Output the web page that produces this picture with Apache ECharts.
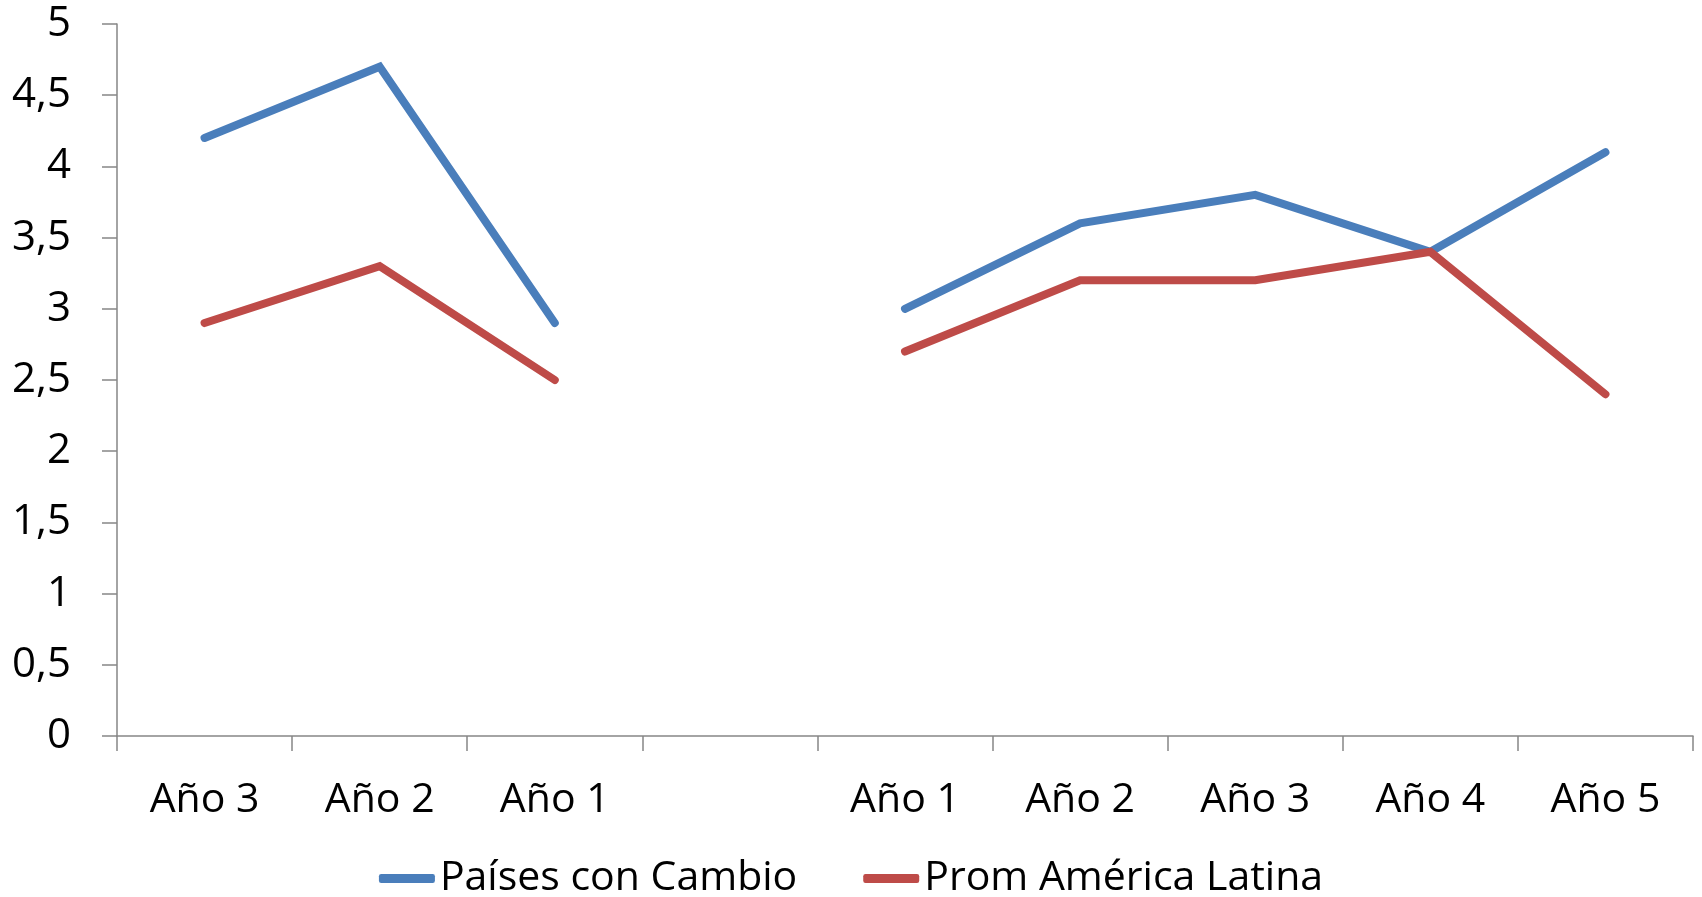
<!DOCTYPE html>
<html>
<head>
<meta charset="utf-8">
<script src="https://cdn.jsdelivr.net/npm/echarts@6/dist/echarts.min.js"></script>
<style>
  html, body { margin: 0; padding: 0; background: #fff; }
  #grafico { width: 1702px; height: 897px; }
</style>
</head>
<body>
<div id="grafico"></div>
<script>
// datos
const categorias = ['Año 3', 'Año 2', 'Año 1', '', 'Año 1', 'Año 2', 'Año 3', 'Año 4', 'Año 5'];
const paisesCambio = [4.2, 4.7, 2.9, null, 3.0, 3.6, 3.8, 3.4, 4.1];
const promAmerica = [2.9, 3.3, 2.5, null, 2.7, 3.2, 3.2, 3.4, 2.4];

const fuente = '"Open Sans", "Noto Sans", sans-serif';
const gris = '#868686';

let myChart = echarts.init(document.getElementById('grafico'));
const option = {
  animation: false,
  grid: { left: 117, right: 9, top: 24, bottom: 161 },
  legend: {
    top: 853,
    left: 'center',
    itemWidth: 56,
    itemHeight: 9,
    itemGap: 66,
    icon: 'roundRect',
    textStyle: { fontFamily: fuente, fontSize: 41, color: '#000' },
    data: ['Países con Cambio', 'Prom América Latina']
  },
  xAxis: {
    type: 'category',
    data: categorias,
    boundaryGap: true,
    axisLine: { lineStyle: { color: gris, width: 1.5 } },
    axisTick: { show: true, length: 15, lineStyle: { color: gris, width: 1.5 } },
    axisLabel: { fontFamily: fuente, fontSize: 41, color: '#000', margin: 44, interval: 0 }
  },
  yAxis: {
    type: 'value',
    min: 0,
    max: 5,
    interval: 0.5,
    splitLine: { show: false },
    axisLine: { show: true, lineStyle: { color: gris, width: 1.5 } },
    axisTick: { show: true, length: 15, lineStyle: { color: gris, width: 1.5 } },
    axisLabel: {
      fontFamily: fuente, fontSize: 42, color: '#000', margin: 46,
      formatter: (v) => String(v).replace('.', ',')
    }
  },
  series: [
    {
      name: 'Países con Cambio',
      type: 'line',
      data: paisesCambio,
      showSymbol: false,
      color: '#4A7EBB',
      lineStyle: { width: 8, cap: 'round', join: 'miter' }
    },
    {
      name: 'Prom América Latina',
      type: 'line',
      data: promAmerica,
      showSymbol: false,
      color: '#BE4B48',
      lineStyle: { width: 8, cap: 'round', join: 'miter' }
    }
  ]
};
myChart.setOption(option);
</script>
</body>
</html>
